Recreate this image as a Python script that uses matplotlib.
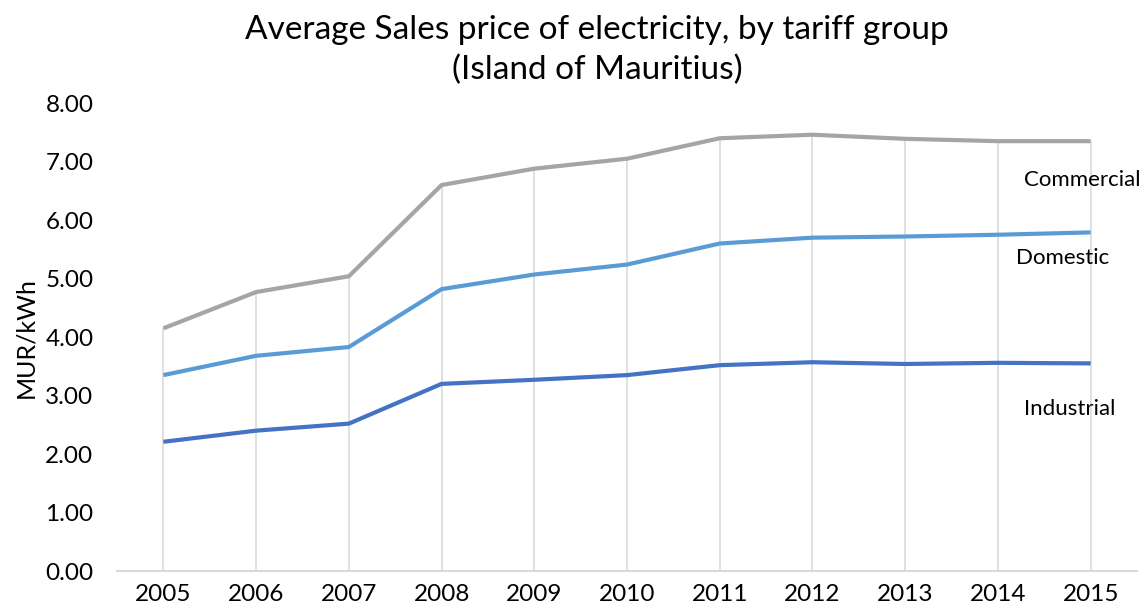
import matplotlib
matplotlib.use("Agg")
import matplotlib.pyplot as plt

years = ["2005", "2006", "2007", "2008", "2009", "2010", "2011", "2012", "2013", "2014", "2015"]
commercial = [4.15, 4.77, 5.04, 6.60, 6.88, 7.05, 7.40, 7.46, 7.39, 7.35, 7.35]
domestic = [3.35, 3.68, 3.83, 4.82, 5.07, 5.24, 5.60, 5.70, 5.72, 5.75, 5.79]
industrial = [2.21, 2.40, 2.52, 3.20, 3.27, 3.35, 3.52, 3.57, 3.54, 3.56, 3.55]
series_names = ["Commercial", "Domestic", "Industrial"]
y_ticks = [0, 1, 2, 3, 4, 5, 6, 7, 8]

plt.rcParams['font.family'] = ['Lato', 'DejaVu Sans']

fig = plt.figure(figsize=(11.44, 6.14), dpi=100)
ax = fig.add_axes([0.1023, 0.070, 0.8916, 0.762])

x = list(range(len(years)))
# drop lines
ax.vlines(x, 0, commercial, colors="#DDDDDD", linewidth=1.3, zorder=1)

ax.plot(x, commercial, color="#A5A5A5", linewidth=3, zorder=3, solid_capstyle="butt")
ax.plot(x, domestic, color="#5B9BD5", linewidth=3, zorder=3, solid_capstyle="butt")
ax.plot(x, industrial, color="#4472C4", linewidth=3, zorder=3, solid_capstyle="butt")

ax.set_xlim(-0.5, len(years) - 0.5)
ax.set_ylim(0, 8)
ax.set_xticks(x)
ax.set_xticklabels(years)
ax.set_yticks(y_ticks)
ax.set_yticklabels([f"{v:.2f}" for v in y_ticks])
ax.tick_params(axis="both", length=0, labelsize=17.5, colors="black")
ax.tick_params(axis="y", pad=17)
ax.tick_params(axis="x", pad=9)

for s in ["top", "right", "left"]:
    ax.spines[s].set_visible(False)
ax.spines["bottom"].set_color("#D9D9D9")
ax.spines["bottom"].set_linewidth(1.5)

ax.set_ylabel("MUR/kWh", fontsize=18, labelpad=6)

label_pos = {"Commercial": (9.28, 6.69), "Domestic": (9.20, 5.36), "Industrial": (9.28, 2.77)}
for name in series_names:
    lx, ly = label_pos[name]
    ax.text(lx, ly, name, fontsize=16, ha="left", va="center", zorder=5, clip_on=False)

fig.text(0.522, 0.918, "Average Sales price of electricity, by tariff group\n(Island of Mauritius)",
         ha="center", va="center", fontsize=24, linespacing=1.4)

fig.savefig("out.png", dpi=100)
